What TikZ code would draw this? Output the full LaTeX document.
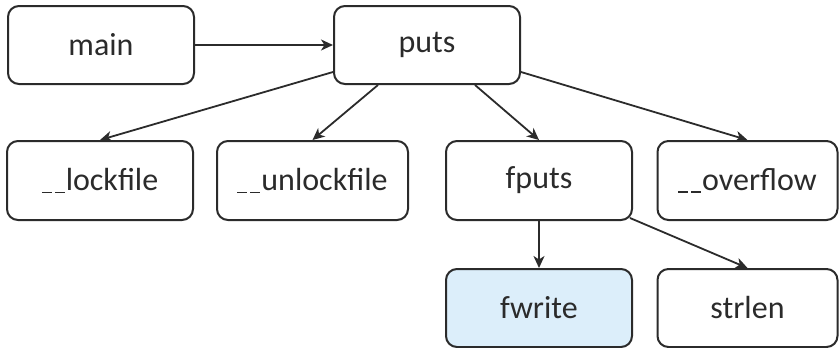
\documentclass[tikz,border=0pt]{standalone}
\usepackage{fontspec}
\setmainfont{Carlito}
\usetikzlibrary{arrows.meta}
\definecolor{ink}{HTML}{2B2B2B}
\definecolor{hl}{HTML}{DCEEFA}
\newcommand{\usc}{\rule[-3pt]{10pt}{1.6pt}}
\newcommand{\dusc}{\usc\hspace{3pt}\usc\hspace{1pt}}
\begin{document}
\begin{tikzpicture}[x=1pt,y=-1pt,
  box/.style={draw=ink, line width=2pt, rounded corners=11pt, minimum height=78pt, text=ink, font=\fontsize{32}{36}\selectfont, inner sep=0pt},
  edge/.style={draw=ink, line width=1.8pt, -{Stealth[length=12pt,width=11pt,inset=3.5pt]}}]
\useasboundingbox (0,0) rectangle (839,348);
\node[box, minimum width=186pt] (main) at (101,45) {main};
\node[box, minimum width=186pt] (puts) at (427,45) {puts};
\node[box, minimum width=186pt, minimum height=79pt] (lock) at (100,180.5) {\dusc lockfile};
\node[box, minimum width=191pt, minimum height=79pt] (unlock) at (312.5,180.5) {\dusc unlockfile};
\node[box, minimum width=186pt, minimum height=79pt] (fputs) at (539,180.5) {fputs};
\node[box, minimum width=180pt, minimum height=79pt] (over) at (747.5,180.5) {\dusc overflow};
\node[box, minimum width=186pt, fill=hl] (fwrite) at (539,308) {fwrite};
\node[box, minimum width=180pt] (strlen) at (747.5,308) {strlen};
\draw[edge] (main) -- (puts);
\draw[edge] ([yshift=-27pt]puts.west) -- (lock.north);
\draw[edge] ([xshift=-49pt]puts.south) -- (unlock.north);
\draw[edge] ([xshift=48pt]puts.south) -- (fputs.north);
\draw[edge] ([yshift=-27pt]puts.east) -- (over.north);
\draw[edge] (fputs) -- (fwrite);
\draw[edge] ([xshift=-3pt,yshift=3pt]fputs.south east) -- (strlen.north);
\end{tikzpicture}
\end{document}
